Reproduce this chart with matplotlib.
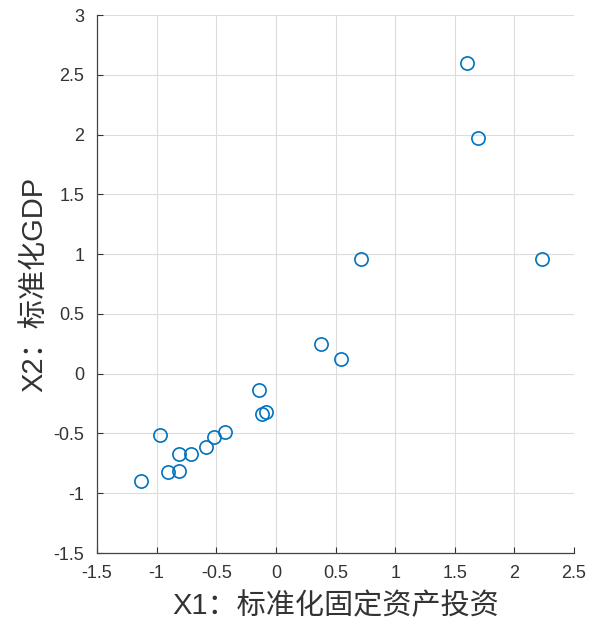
import matplotlib
matplotlib.use("Agg")
import matplotlib.pyplot as plt

x1 = [-1.13, -0.97, -0.905, -0.81, -0.81, -0.71, -0.59, -0.52, -0.43,
      -0.145, -0.115, -0.085, 0.38, 0.545, 0.71, 1.605, 1.695, 2.23]
x2 = [-0.90, -0.51, -0.82, -0.81, -0.67, -0.67, -0.61, -0.53, -0.49,
      -0.14, -0.34, -0.32, 0.25, 0.12, 0.96, 2.60, 1.97, 0.96]

xticks = [-1.5, -1, -0.5, 0, 0.5, 1, 1.5, 2, 2.5]
yticks = [-1.5, -1, -0.5, 0, 0.5, 1, 1.5, 2, 2.5, 3]
xlabel = "X1：标准化固定资产投资"
ylabel = "X2：标准化GDP"

fam = ['Liberation Sans', 'Noto Sans CJK SC', 'DejaVu Sans']
plt.rcParams['font.family'] = fam

fig = plt.figure(figsize=(5.92, 6.25), dpi=100)
ax = fig.add_axes([97/592, 72/625, 477/592, 538/625])
ax.plot(x1, x2, 'o', markerfacecolor='none', markeredgecolor='#0072BD',
        markersize=9.5, markeredgewidth=1.2, linestyle='none')
ax.set_xlim(-1.5, 2.5)
ax.set_ylim(-1.5, 3)
ax.set_xticks(xticks)
ax.set_yticks(yticks)
ax.set_xticklabels([f"{t:g}" for t in xticks])
ax.set_yticklabels([f"{t:g}" for t in yticks])
ax.grid(True, color='#dcdcdc', linewidth=0.8)
ax.set_axisbelow(True)
ax.tick_params(direction='in', length=4, labelsize=13, colors='#333333',
               top=False, right=False)
ax.tick_params(axis='y', pad=9)
ax.tick_params(axis='x', pad=9)
for s in ax.spines.values():
    s.set_color('#444444')
    s.set_linewidth(0.9)
ax.spines['top'].set_visible(False)
ax.spines['right'].set_visible(False)
ax.set_xlabel(xlabel, fontsize=21, color='#333333', labelpad=7)
ax.set_ylabel(ylabel, fontsize=21, color='#333333', labelpad=4)
fig.savefig("out.png", dpi=100)
